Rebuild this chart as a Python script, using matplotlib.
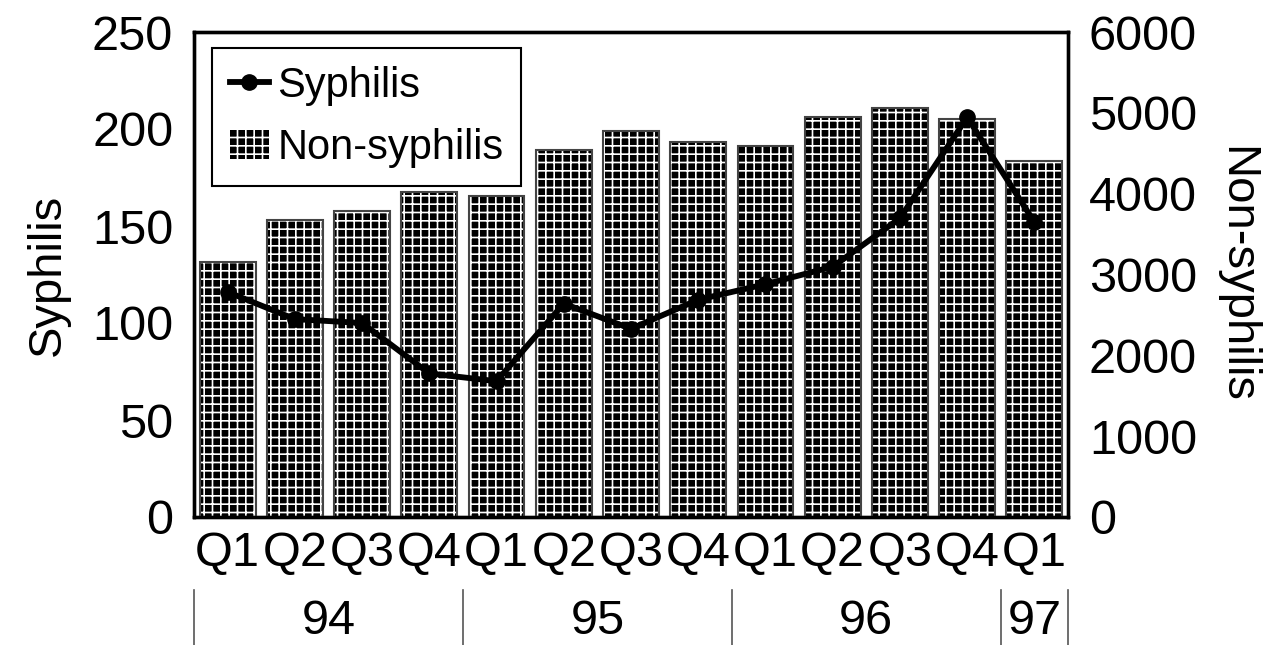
import matplotlib
matplotlib.use("Agg")
import matplotlib.pyplot as plt
import numpy as np
from matplotlib.patches import Patch
from matplotlib.lines import Line2D
import matplotlib.transforms as mtransforms

plt.rcParams['font.family'] = ['Liberation Sans', 'DejaVu Sans']
plt.rcParams['hatch.linewidth'] = 1.2

quarters = ["Q1", "Q2", "Q3", "Q4", "Q1", "Q2", "Q3", "Q4", "Q1", "Q2", "Q3", "Q4", "Q1"]
years = ["94", "95", "96", "97"]
year_spans = [(0, 3), (4, 7), (8, 11), (12, 12)]
syphilis = [116, 102, 100, 74, 70, 110, 97, 112, 120, 129, 154, 206, 152]
non_syphilis = [3150, 3670, 3790, 4015, 3965, 4535, 4780, 4635, 4585, 4945, 5055, 4920, 4400]

fig = plt.figure(figsize=(12.81, 6.45), dpi=100)
ax = fig.add_axes([194/1281, 1-517/645, (1068-194)/1281, (517-32)/645])
ax2 = ax.twinx()

x = np.arange(len(quarters))
ax2.bar(x, non_syphilis, width=0.83, color='black', edgecolor='white', hatch='++', linewidth=0, zorder=2)
ax2.bar(x, non_syphilis, width=0.83, fill=False, edgecolor='#444444', linewidth=1.5, zorder=3)

ax.plot(x, syphilis, color='black', linewidth=4.2, marker='o', markersize=11, zorder=5)
ax.set_zorder(ax2.get_zorder() + 1)
ax.patch.set_visible(False)

ax.set_xlim(-0.5, len(quarters) - 0.5)
ax.set_ylim(0, 250)
ax2.set_ylim(0, 6000)
ax.set_yticks([0, 50, 100, 150, 200, 250])
ax2.set_yticks([0, 1000, 2000, 3000, 4000, 5000, 6000])
ax.set_xticks(x)
ax.set_xticklabels(quarters)

for a in (ax, ax2):
    a.tick_params(axis='both', length=0, labelsize=35)
    for s in a.spines.values():
        s.set_linewidth(2.4)
        s.set_color('black')
ax.tick_params(axis='y', pad=15)
ax2.tick_params(axis='y', pad=15)
ax.tick_params(axis='x', pad=10)

ax.set_ylabel("Syphilis", fontsize=34, labelpad=16)
ax2.set_ylabel("Non-syphilis", fontsize=34, rotation=270, labelpad=44)

trans = mtransforms.blended_transform_factory(ax.transData, ax.transAxes)
bounds = [-0.5] + [e + 0.5 for (_, e) in year_spans]
for b in bounds:
    ax.plot([b, b], [-0.15, -0.265], transform=trans, color='#555555', linewidth=1.2, clip_on=False)
for yl, (s, e) in zip(years, year_spans):
    ax.text((s + e) / 2, -0.215, yl, transform=trans, ha='center', va='center', fontsize=35)

handles = [Line2D([0], [0], color='black', linewidth=4.2, marker='o', markersize=11),
           Patch(facecolor='black', edgecolor='white', hatch='++', linewidth=0)]
leg = ax.legend(handles, ["Syphilis", "Non-syphilis"], loc='upper left',
                bbox_to_anchor=(0.0206, 0.967), borderaxespad=0, fontsize=30, frameon=True,
                fancybox=False, edgecolor='black', framealpha=1, handlelength=0.95,
                handletextpad=0.2, borderpad=0.42, labelspacing=0.55)
leg.get_frame().set_linewidth(1.5)

fig.savefig("out.png", dpi=100)
